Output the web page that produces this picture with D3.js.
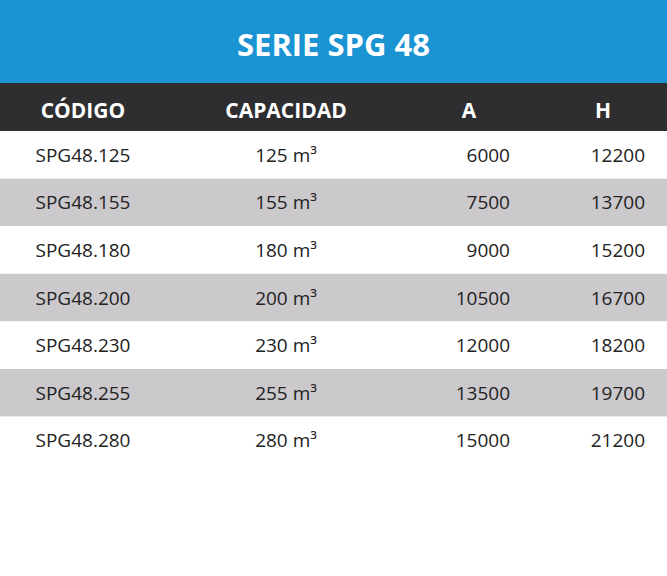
<!DOCTYPE html><html><head><meta charset="utf-8">
<script src="https://cdn.jsdelivr.net/npm/d3@7"></script>
<style>body{margin:0;background:#fff}svg{display:block}</style></head><body>
<script>
const title = "SERIE SPG 48";
const headers = ["CÓDIGO","CAPACIDAD","A","H"];
const codes = ["SPG48.125","SPG48.155","SPG48.180","SPG48.200","SPG48.230","SPG48.255","SPG48.280"];
const capacities = [125,155,180,200,230,255,280];
const aValues = [6000,7500,9000,10500,12000,13500,15000];
const hValues = [12200,13700,15200,16700,18200,19700,21200];

const W=667,H=576, font="'Open Sans', sans-serif";
const svg=d3.select("body").append("svg").attr("width",W).attr("height",H);
svg.append("rect").attr("width",W).attr("height",83).attr("fill","#1a93d3");
svg.append("text").attr("x",W/2).attr("y",56).attr("text-anchor","middle").attr("fill","#fff")
  .attr("font-family",font).attr("font-weight",700).attr("font-size",31).text(title);
svg.append("rect").attr("y",83).attr("width",W).attr("height",48).attr("fill","#2e2e30");
const colX=[83,286,469,603];
svg.selectAll("text.h").data(headers).join("text").attr("x",(d,i)=>colX[i]).attr("y",118)
  .attr("text-anchor","middle").attr("fill","#fff").attr("font-family",font).attr("font-weight",700)
  .attr("font-size",21).text(d=>d);
const y=d3.scaleBand().domain(codes).range([131,131+47.6*7]);
const g=svg.selectAll("g.r").data(codes).join("g").attr("transform",d=>`translate(0,${y(d)})`);
g.append("rect").attr("width",W).attr("height",y.bandwidth()).attr("fill",(d,i)=>i%2?"#cbc9cc":"#fff");
const ty=y.bandwidth()/2+7, fs=19;
g.append("text").attr("x",83).attr("y",ty).attr("text-anchor","middle").attr("font-family",font).attr("font-size",fs).attr("fill","#222").text(d=>d);
g.append("text").attr("x",286).attr("y",ty).attr("text-anchor","middle").attr("font-family",font).attr("font-size",fs).attr("fill","#222")
  .text((d,i)=>capacities[i]+" m³");
g.append("text").attr("x",510).attr("y",ty).attr("text-anchor","end").attr("font-family",font).attr("font-size",fs).attr("fill","#222").text((d,i)=>aValues[i]);
g.append("text").attr("x",645).attr("y",ty).attr("text-anchor","end").attr("font-family",font).attr("font-size",fs).attr("fill","#222").text((d,i)=>hValues[i]);
</script></body></html>
